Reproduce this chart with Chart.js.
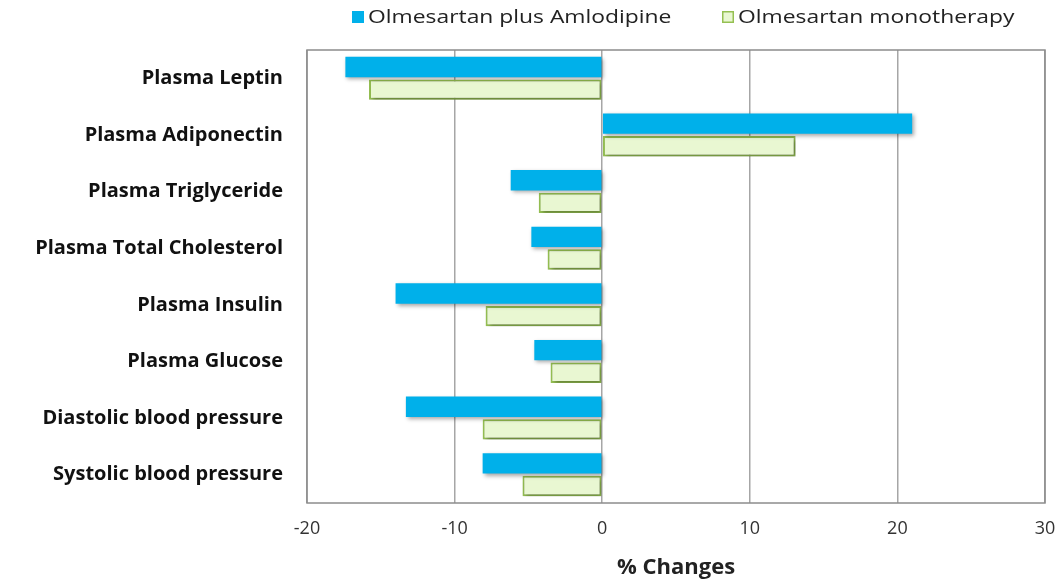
<!DOCTYPE html>
<html>
<head>
<meta charset="utf-8">
<script src="https://cdn.jsdelivr.net/npm/chart.js@4"></script>
<style>
  html, body { margin: 0; padding: 0; background: #fff; }
  #wrap { width: 1060px; height: 582px; }
</style>
</head>
<body>
<div id="wrap"><canvas id="graph1"></canvas></div>
<script>
// data
var categories = ['Plasma Leptin', 'Plasma Adiponectin', 'Plasma Triglyceride', 'Plasma Total Cholesterol',
    'Plasma Insulin', 'Plasma Glucose', 'Diastolic blood pressure', 'Systolic blood pressure'];
var comboValues = [-17.4, 21.0, -6.2, -4.8, -14.0, -4.6, -13.3, -8.1];
var monoValues = [-15.8, 13.1, -4.3, -3.7, -7.9, -3.5, -8.1, -5.4];
var xTicks = [-20, -10, 0, 10, 20, 30];

// soft drop shadow under the bars, frame round the plot, legend on top
var extrasPlugin = {
    id: 'extras',
    beforeDatasetsDraw: function (chart) {
        var c = chart.ctx;
        c.save();
        c.shadowColor = 'rgba(0,0,0,0.35)';
        c.shadowBlur = 4;
        c.shadowOffsetX = 2;
        c.shadowOffsetY = 2;
    },
    afterDatasetsDraw: function (chart) {
        chart.ctx.restore();
    },
    afterDraw: function (chart) {
        var a = chart.chartArea, c = chart.ctx;
        c.save();
        c.strokeStyle = '#8c8c8c';
        c.lineWidth = 1.5;
        c.strokeRect(a.left, a.top, a.right - a.left, a.bottom - a.top);

        // legend (text a bit stretched, like the original)
        var starts = [352, 722];
        c.font = '18px "Open Sans"';
        c.textBaseline = 'middle';
        chart.data.datasets.forEach(function (ds, i) {
            var x = starts[i], y = 11;
            c.fillStyle = ds.backgroundColor;
            c.fillRect(x, y, 12, 12);
            if (ds.borderWidth) {
                c.strokeStyle = ds.borderColor;
                c.lineWidth = 1.5;
                c.strokeRect(x + 0.75, y + 0.75, 10.5, 10.5);
            }
            c.save();
            c.translate(x + 16, y + 7);
            c.scale(1.27, 1);
            c.fillStyle = '#222';
            c.fillText(ds.label, 0, 0);
            c.restore();
        });
        c.restore();
    }
};

var ctx1 = document.getElementById('graph1').getContext('2d');
var graph1 = new Chart(ctx1, {
    type: 'bar',
    data: {
        labels: categories,
        datasets: [{
            label: 'Olmesartan plus Amlodipine',
            data: comboValues,
            backgroundColor: '#00b0ea',
            borderWidth: 0
        }, {
            label: 'Olmesartan monotherapy',
            data: monoValues,
            backgroundColor: '#e9f7d2',
            borderColor: '#95c052',
            borderWidth: 2,
            borderSkipped: false
        }]
    },
    options: {
        indexAxis: 'y',
        responsive: true,
        maintainAspectRatio: false,
        animation: false,
        layout: { padding: { left: 0, right: 0, top: 50, bottom: 0 } },
        categoryPercentage: 0.8,
        barPercentage: 0.9,
        plugins: {
            tooltip: { enabled: false },
            legend: { display: false }
        },
        scales: {
            x: {
                min: -20,
                max: 30,
                afterBuildTicks: function (scale) {
                    scale.ticks = xTicks.map(function (v) { return { value: v }; });
                },
                afterFit: function (scale) {
                    scale.height = 79;
                    scale.paddingRight = 15;
                },
                grid: { color: '#a6a6a6', lineWidth: 1.5, drawTicks: false },
                border: { display: false },
                ticks: {
                    font: { family: 'Open Sans', size: 18 },
                    color: '#333',
                    padding: 15
                },
                title: {
                    display: true,
                    text: '% Changes',
                    font: { family: 'Open Sans', size: 22, weight: 'bold' },
                    color: '#222',
                    padding: { top: 8, bottom: 1 }
                }
            },
            y: {
                afterFit: function (scale) { scale.width = 307; },
                grid: { display: false },
                border: { display: false },
                ticks: {
                    font: { family: 'Open Sans', size: 20, weight: 'bold' },
                    color: '#111',
                    padding: 16
                }
            }
        }
    },
    plugins: [extrasPlugin]
});
</script>
</body>
</html>
